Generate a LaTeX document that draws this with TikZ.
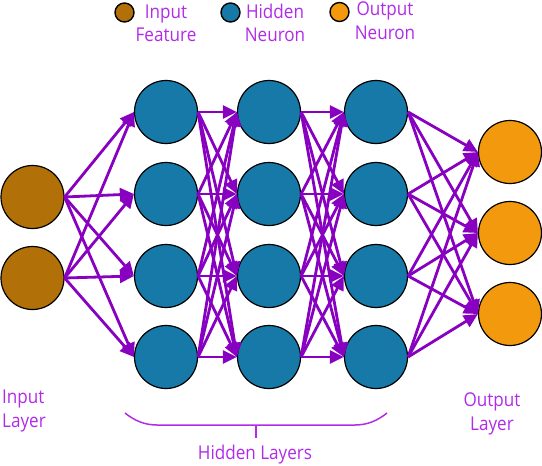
\documentclass[tikz,border=0pt]{standalone}
\usepackage{fontspec}
\setmainfont{Open Sans}[FakeStretch=0.9]
\usetikzlibrary{arrows.meta}
\definecolor{inbrown}{RGB}{178,112,8}
\definecolor{hidblue}{RGB}{22,121,167}
\definecolor{outorange}{RGB}{242,153,14}
\definecolor{arrowpurple}{RGB}{136,0,192}
\definecolor{textpurple}{RGB}{176,44,232}
\tikzset{
  neuron/.style={circle, draw=black, line width=1.2pt, minimum size=63pt, inner sep=0pt},
  innode/.style={neuron, fill=inbrown},
  hidnode/.style={neuron, fill=hidblue},
  outnode/.style={neuron, fill=outorange},
  legdot/.style={circle, draw=black, line width=1.4pt, minimum size=19pt, inner sep=0pt},
  conn/.style={draw=arrowpurple, line width=2.8pt, -{Triangle[length=14pt,width=13pt]}},
  lbl/.style={text=textpurple, font=\fontsize{19}{23.5}\selectfont, inner sep=0pt, align=center},
  bracestyle/.style={draw=textpurple, line width=1.5pt}
}
\begin{document}
\begin{tikzpicture}[x=1pt,y=-1pt]
\useasboundingbox (0,0) rectangle (542,466);
% legend
\node[legdot, fill=inbrown] (l1) at (124.5,12.5) {};
\node[legdot, fill=hidblue] (l2) at (230.5,12.5) {};
\node[legdot, fill=outorange] (l3) at (339.5,12) {};
\node[lbl, anchor=base] (t1) at (166,41.7) {Input\\Feature};
\node[lbl, anchor=base] (t2) at (275,41.7) {Hidden\\Neuron};
\node[lbl, anchor=base] (t3) at (385,39) {Output\\Neuron};
% neurons
\node[innode] (i1) at (32.5,197) {};
\node[innode] (i2) at (32.5,278) {};
\foreach \y [count=\k] in {112,194,276,357} {
  \node[hidnode] (a\k) at (166,\y) {};
  \node[hidnode] (b\k) at (269,\y) {};
  \node[hidnode] (c\k) at (376,\y) {};
}
\node[outnode] (o1) at (510,152) {};
\node[outnode] (o2) at (510,233) {};
\node[outnode] (o3) at (510,314) {};
% connections
\foreach \s in {1,2} \foreach \t in {1,...,4} \draw[conn] (i\s.east) -- (a\t.west);
\foreach \s in {1,...,4} \foreach \t in {1,...,4} {
  \draw[conn] (a\s.east) -- (b\t.west);
  \draw[conn] (b\s.east) -- (c\t.west);
}
\foreach \s in {1,...,4} \foreach \t in {1,2,3} \draw[conn] (c\s.east) -- (o\t.west);
% layer labels
\node[lbl, anchor=base west, align=left] (il) at (2,427) {Input\\Layer};
\node[lbl, anchor=base] (ol) at (492,430) {Output\\Layer};
% brace
\coordinate (bl) at (125,413);
\coordinate (br) at (387,413);
\coordinate (bm) at (256,425);
\coordinate (bt) at (256,438);
\draw[bracestyle] (bl) .. controls (135,421) and (145,425) .. (157,425) -- (355,425) .. controls (367,425) and (377,421) .. (br);
\draw[bracestyle] (bm) -- (bt);
\node[lbl, anchor=base] (hl) at (255,459) {Hidden Layers};
\end{tikzpicture}
\end{document}
